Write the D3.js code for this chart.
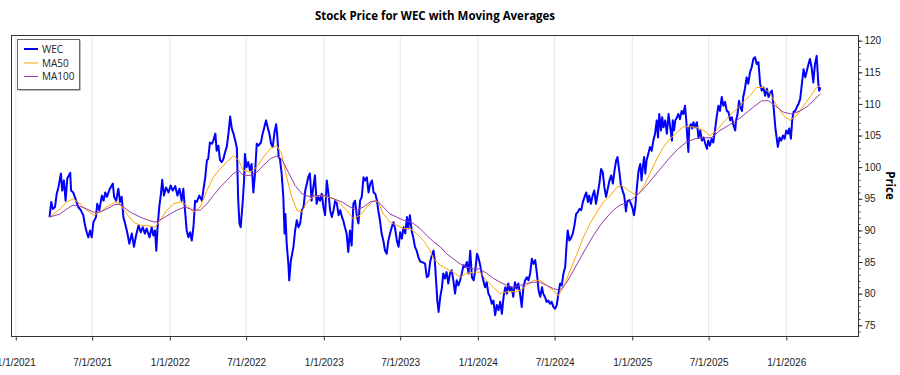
<!DOCTYPE html>
<html><head><meta charset="utf-8">
<script src="https://cdn.jsdelivr.net/npm/d3@7"></script>
<style>
body{margin:0;background:#fff;}
svg{display:block;font-family:"Segoe UI","Open Sans","Noto Sans",sans-serif;}
</style>
</head><body>
<svg id="chart" width="900" height="375"></svg>
<script>
// ---------------- DATA ----------------
const wecDates = [
"2021-03-22","2021-03-26","2021-03-30","2021-04-04","2021-04-08","2021-04-12","2021-04-18","2021-04-21","2021-04-25","2021-04-29",
"2021-05-03","2021-05-10","2021-05-12","2021-05-17","2021-05-24","2021-05-29","2021-06-04","2021-06-10","2021-06-14","2021-06-18",
"2021-06-22","2021-06-26","2021-06-30","2021-07-04","2021-07-10","2021-07-13","2021-07-18","2021-07-24","2021-07-28","2021-08-01",
"2021-08-05","2021-08-12","2021-08-19","2021-08-22","2021-08-27","2021-09-01","2021-09-05","2021-09-09","2021-09-13","2021-09-17",
"2021-09-22","2021-09-27","2021-10-03","2021-10-08","2021-10-13","2021-10-19","2021-10-24","2021-10-29","2021-11-03","2021-11-07",
"2021-11-14","2021-11-19","2021-11-23","2021-11-27","2021-11-30","2021-12-03","2021-12-07","2021-12-11","2021-12-14","2021-12-18",
"2021-12-23","2021-12-29","2022-01-03","2022-01-08","2022-01-14","2022-01-19","2022-01-24","2022-01-29","2022-02-02","2022-02-06",
"2022-02-10","2022-02-14","2022-02-18","2022-02-22","2022-02-26","2022-03-02","2022-03-06","2022-03-12","2022-03-18","2022-03-22",
"2022-03-26","2022-03-30","2022-04-02","2022-04-06","2022-04-11","2022-04-14","2022-04-19","2022-04-22","2022-04-26","2022-04-30",
"2022-05-04","2022-05-08","2022-05-12","2022-05-16","2022-05-20","2022-05-24","2022-05-28","2022-06-01","2022-06-05","2022-06-09",
"2022-06-12","2022-06-15","2022-06-18","2022-06-23","2022-06-26","2022-06-28","2022-07-02","2022-07-06","2022-07-10","2022-07-14",
"2022-07-18","2022-07-22","2022-07-26","2022-07-30","2022-08-05","2022-08-09","2022-08-13","2022-08-17","2022-08-21","2022-08-25",
"2022-08-29","2022-09-02","2022-09-06","2022-09-10","2022-09-13","2022-09-16","2022-09-19","2022-09-23","2022-09-27","2022-09-30",
"2022-10-02","2022-10-05","2022-10-09","2022-10-11","2022-10-15","2022-10-18","2022-10-21","2022-10-25","2022-10-29","2022-11-02",
"2022-11-06","2022-11-10","2022-11-14","2022-11-18","2022-11-22","2022-11-25","2022-11-29","2022-12-03","2022-12-07","2022-12-11",
"2022-12-15","2022-12-19","2022-12-23","2022-12-27","2022-12-31","2023-01-04","2023-01-08","2023-01-12","2023-01-16","2023-01-20",
"2023-01-24","2023-01-28","2023-02-01","2023-02-05","2023-02-09","2023-02-13","2023-02-16","2023-02-20","2023-02-24","2023-02-28",
"2023-03-04","2023-03-08","2023-03-12","2023-03-16","2023-03-20","2023-03-24","2023-03-28","2023-04-01","2023-04-05","2023-04-09",
"2023-04-13","2023-04-17","2023-04-21","2023-04-25","2023-04-29","2023-05-03","2023-05-07","2023-05-10","2023-05-14","2023-05-18",
"2023-05-22","2023-05-26","2023-05-30","2023-06-03","2023-06-07","2023-06-11","2023-06-15","2023-06-19","2023-06-23","2023-06-27",
"2023-07-01","2023-07-05","2023-07-09","2023-07-13","2023-07-17","2023-07-20","2023-07-24","2023-07-28","2023-08-01","2023-08-05",
"2023-08-09","2023-08-13","2023-08-17","2023-08-21","2023-08-25","2023-08-29","2023-09-02","2023-09-06","2023-09-10","2023-09-14",
"2023-09-18","2023-09-21","2023-09-24","2023-09-27","2023-09-30","2023-10-04","2023-10-08","2023-10-11","2023-10-15","2023-10-19",
"2023-10-23","2023-10-27","2023-10-31","2023-11-04","2023-11-08","2023-11-12","2023-11-16","2023-11-20","2023-11-24","2023-11-28",
"2023-12-02","2023-12-06","2023-12-10","2023-12-14","2023-12-18","2023-12-22","2023-12-26","2023-12-30","2024-01-02","2024-01-06",
"2024-01-10","2024-01-14","2024-01-18","2024-01-22","2024-01-26","2024-01-30","2024-02-03","2024-02-07","2024-02-11","2024-02-15",
"2024-02-19","2024-02-23","2024-02-27","2024-03-02","2024-03-06","2024-03-10","2024-03-13","2024-03-17","2024-03-21","2024-03-25",
"2024-03-29","2024-04-02","2024-04-06","2024-04-10","2024-04-14","2024-04-18","2024-04-22","2024-04-26","2024-04-30","2024-05-04",
"2024-05-08","2024-05-12","2024-05-16","2024-05-20","2024-05-24","2024-05-28","2024-06-01","2024-06-04","2024-06-08","2024-06-12",
"2024-06-16","2024-06-20","2024-06-24","2024-06-28","2024-07-02","2024-07-06","2024-07-10","2024-07-14","2024-07-18","2024-07-22",
"2024-07-26","2024-07-30","2024-08-01","2024-08-05","2024-08-08","2024-08-13","2024-08-17","2024-08-21","2024-08-25","2024-08-29",
"2024-09-02","2024-09-06","2024-09-10","2024-09-14","2024-09-18","2024-09-21","2024-09-25","2024-09-29","2024-10-03","2024-10-07",
"2024-10-11","2024-10-15","2024-10-19","2024-10-23","2024-10-27","2024-10-31","2024-11-04","2024-11-08","2024-11-12","2024-11-16",
"2024-11-20","2024-11-24","2024-11-27","2024-12-01","2024-12-05","2024-12-09","2024-12-13","2024-12-17","2024-12-20","2024-12-25",
"2024-12-29","2025-01-02","2025-01-05","2025-01-08","2025-01-12","2025-01-16","2025-01-20","2025-01-23","2025-01-26","2025-01-29",
"2025-02-01","2025-02-04","2025-02-08","2025-02-12","2025-02-16","2025-02-20","2025-02-24","2025-02-28","2025-03-03","2025-03-06",
"2025-03-10","2025-03-13","2025-03-16","2025-03-20","2025-03-24","2025-03-28","2025-04-01","2025-04-05","2025-04-07","2025-04-10",
"2025-04-13","2025-04-17","2025-04-20","2025-04-24","2025-04-28","2025-05-02","2025-05-06","2025-05-09","2025-05-12","2025-05-14",
"2025-05-16","2025-05-20","2025-05-23","2025-05-26","2025-05-30","2025-06-03","2025-06-07","2025-06-11","2025-06-15","2025-06-19",
"2025-06-23","2025-06-27","2025-06-30","2025-07-04","2025-07-08","2025-07-12","2025-07-16","2025-07-20","2025-07-24","2025-07-28",
"2025-08-01","2025-08-05","2025-08-09","2025-08-13","2025-08-17","2025-08-21","2025-08-25","2025-08-29","2025-09-02","2025-09-04",
"2025-09-07","2025-09-11","2025-09-14","2025-09-18","2025-09-21","2025-09-25","2025-09-29","2025-10-03","2025-10-07","2025-10-11",
"2025-10-15","2025-10-19","2025-10-23","2025-10-27","2025-10-31","2025-11-04","2025-11-08","2025-11-12","2025-11-16","2025-11-20",
"2025-11-24","2025-11-28","2025-12-02","2025-12-06","2025-12-10","2025-12-12","2025-12-16","2025-12-20","2025-12-24","2025-12-28",
"2026-01-01","2026-01-05","2026-01-08","2026-01-12","2026-01-15","2026-01-18","2026-01-22","2026-01-26","2026-01-30","2026-02-03",
"2026-02-07","2026-02-11","2026-02-15","2026-02-19","2026-02-22","2026-02-26","2026-03-02","2026-03-06","2026-03-10","2026-03-14",
"2026-03-18","2026-03-20","2026-03-23"
];
const wecValues = [
92.1,94.5,93.4,93.7,95.8,96.8,99.0,96.3,97.9,94.7,
98.2,99.1,96.3,96.0,94.7,93.7,93.2,92.4,90.8,89.7,
88.9,90.0,88.9,91.3,92.1,94.2,93.2,95.5,94.7,96.0,
95.3,96.6,97.4,95.3,94.7,96.6,94.5,95.3,92.1,91.1,
89.7,87.9,89.5,87.4,89.2,90.8,89.7,90.5,89.5,90.3,
88.9,90.5,89.2,90.0,86.8,90.5,93.7,95.8,98.0,95.5,
96.8,96.0,97.1,96.3,97.0,95.5,96.6,94.7,96.6,93.2,
90.0,88.9,89.7,88.4,90.5,94.7,94.5,95.5,94.7,96.6,
98.4,101.1,101.3,103.9,103.7,104.2,105.3,102.6,103.4,101.1,
100.8,101.3,102.4,103.2,105.3,108.0,106.1,105.3,104.2,103.0,
95.0,91.1,90.5,94.7,97.9,102.1,100.0,100.8,99.5,100.5,
96.0,99.0,103.7,103.4,103.9,105.3,106.3,107.4,106.3,105.3,
103.7,103.2,105.5,106.8,104.7,101.6,101.3,99.0,95.3,89.5,
92.6,87.9,84.7,82.1,85.3,86.3,87.4,90.0,91.6,90.5,
91.1,93.2,93.7,96.3,97.4,98.4,99.0,94.7,96.8,98.7,
94.2,95.3,94.7,95.8,93.7,92.4,97.9,95.8,93.2,92.1,
93.2,94.7,94.2,92.4,93.2,92.1,91.6,90.5,89.5,86.6,
90.0,87.6,94.2,94.7,92.4,91.1,94.7,95.3,98.4,97.9,
98.4,96.0,97.4,97.9,96.0,95.8,94.7,93.2,91.6,89.5,
88.4,86.8,86.3,88.4,89.5,90.5,91.3,90.3,88.4,87.4,
89.7,88.7,90.5,89.5,92.1,90.3,92.4,90.0,88.9,87.4,
86.8,85.8,85.1,85.0,84.9,84.7,82.6,82.8,85.0,86.1,
86.8,85.3,82.1,78.9,77.1,79.5,81.0,83.2,82.4,83.4,
81.6,83.2,83.7,82.1,80.0,82.1,81.3,82.1,83.2,84.5,
84.2,85.0,83.2,86.8,82.6,82.1,83.7,86.3,85.8,84.7,
83.2,82.1,81.0,81.8,80.0,79.5,78.4,78.9,76.6,78.2,
77.4,78.7,76.8,79.5,81.0,80.0,81.6,80.5,81.0,79.5,
81.8,80.8,81.6,80.0,77.9,81.0,82.1,82.6,82.1,83.2,
85.5,84.7,85.3,83.2,80.5,79.5,81.0,80.0,79.5,78.7,
78.9,78.4,78.7,77.9,77.6,78.2,80.0,81.6,81.3,83.2,
84.2,88.4,90.0,88.4,88.7,89.5,90.8,92.6,92.9,93.4,
93.2,94.5,95.3,96.0,94.5,95.5,94.2,95.5,96.3,94.2,
95.8,97.4,99.7,99.2,96.8,95.3,96.6,97.9,98.7,97.4,
99.5,101.1,101.6,99.5,97.2,96.3,95.5,93.0,94.6,94.8,
94.2,93.4,92.4,93.7,96.8,99.5,100.5,97.9,100.0,101.6,
99.0,101.1,102.1,103.2,102.6,104.2,105.3,107.4,104.7,108.4,
105.8,107.9,106.3,107.4,105.3,108.4,106.3,104.2,107.4,105.8,
107.4,107.9,108.4,107.6,108.9,108.4,109.7,107.4,104.2,102.4,
106.3,106.8,106.1,107.1,106.3,107.1,104.7,105.8,104.2,104.7,
103.7,102.9,104.2,103.4,104.5,103.9,105.8,107.9,109.7,108.9,
111.1,109.7,110.3,108.9,108.7,107.4,107.9,106.6,105.8,107.4,
108.2,110.5,109.5,108.9,111.1,112.4,114.2,113.2,115.0,115.8,
117.1,117.4,116.3,116.6,113.2,112.1,112.6,111.3,112.4,111.1,
111.8,112.1,109.5,106.3,104.2,103.2,104.7,104.2,105.0,104.5,
105.8,105.3,106.1,104.5,107.4,108.7,108.9,109.5,110.0,110.8,
113.2,115.5,114.2,115.3,116.1,117.1,115.8,113.4,116.3,117.6,
113.2,112.1,112.6
];

const ma50Dates = [
"2021-03-22","2021-04-16","2021-05-02","2021-05-17","2021-06-02","2021-06-18","2021-07-04","2021-07-20","2021-08-05","2021-08-24",
"2021-09-05","2021-09-21","2021-10-07","2021-10-23","2021-11-07","2021-11-27","2021-12-09","2021-12-25","2022-01-10","2022-01-25",
"2022-02-10","2022-02-26","2022-03-14","2022-03-30","2022-04-14","2022-04-30","2022-05-16","2022-06-01","2022-06-13","2022-06-24",
"2022-07-10","2022-07-26","2022-08-11","2022-08-27","2022-09-12","2022-09-23","2022-10-05","2022-10-17","2022-10-29","2022-11-10",
"2022-11-22","2022-12-07","2022-12-23","2023-01-08","2023-01-24","2023-02-09","2023-02-24","2023-03-12","2023-03-28","2023-04-13",
"2023-04-29","2023-05-10","2023-05-22","2023-06-07","2023-06-23","2023-07-09","2023-07-24","2023-08-09","2023-08-25","2023-09-10",
"2023-09-18","2023-10-04","2023-10-19","2023-11-04","2023-11-20","2023-12-06","2023-12-22","2024-01-06","2024-01-22","2024-02-07",
"2024-02-23","2024-03-10","2024-03-25","2024-04-10","2024-04-26","2024-05-12","2024-05-28","2024-06-12","2024-06-28","2024-07-10",
"2024-07-22","2024-08-07","2024-08-23","2024-09-07","2024-09-23","2024-10-09","2024-10-25","2024-11-10","2024-11-25","2024-12-07",
"2024-12-23","2025-01-12","2025-01-27","2025-02-12","2025-02-28","2025-03-16","2025-04-01","2025-04-17","2025-05-02","2025-05-18",
"2025-06-03","2025-06-19","2025-07-04","2025-07-20","2025-08-05","2025-08-21","2025-09-06","2025-09-21","2025-10-07","2025-10-23",
"2025-11-08","2025-11-24","2025-12-10","2025-12-25","2026-01-10","2026-01-26","2026-02-11","2026-02-26","2026-03-14","2026-03-23"
];
const ma50Values = [
92.1,93.4,94.5,95.0,94.2,93.2,92.4,92.9,93.7,94.5,
94.2,92.6,91.3,90.8,90.8,90.5,91.6,93.2,94.2,94.5,
94.0,92.9,93.7,96.3,98.4,99.7,100.8,101.8,101.1,99.5,
99.2,100.0,101.6,102.9,103.4,102.1,98.4,95.3,93.2,92.9,
94.5,95.3,95.5,95.3,95.0,94.2,93.2,91.8,92.4,93.7,
94.7,94.5,92.6,91.3,90.8,90.3,90.3,89.5,88.4,86.8,
85.5,84.5,83.9,83.4,82.6,83.2,83.4,83.4,82.1,81.0,
80.0,80.3,80.3,80.5,81.3,82.1,82.1,81.3,80.5,79.7,
81.0,83.7,86.3,88.9,91.1,92.9,94.5,95.5,96.8,97.1,
96.3,95.5,96.8,99.0,101.3,103.2,104.5,105.5,106.4,106.4,
106.3,105.8,105.0,105.8,107.1,108.2,109.2,110.3,111.3,112.6,
112.6,111.6,109.7,108.2,107.4,108.2,109.7,111.1,112.6,112.9
];

const ma100Dates = [
"2021-03-22","2021-04-16","2021-05-02","2021-05-17","2021-06-02","2021-06-18","2021-07-04","2021-07-20","2021-08-05","2021-08-24",
"2021-09-05","2021-09-29","2021-10-23","2021-11-11","2021-11-27","2021-12-13","2022-01-02","2022-01-18","2022-02-06","2022-02-26",
"2022-03-14","2022-03-30","2022-04-14","2022-04-30","2022-05-16","2022-06-01","2022-06-13","2022-06-24","2022-07-10","2022-07-26",
"2022-08-11","2022-08-27","2022-09-12","2022-09-23","2022-10-09","2022-10-25","2022-11-10","2022-11-25","2022-12-15","2023-01-04",
"2023-01-24","2023-02-13","2023-03-04","2023-03-20","2023-04-05","2023-04-21","2023-05-07","2023-05-22","2023-06-07","2023-06-23",
"2023-07-09","2023-07-28","2023-08-17","2023-09-02","2023-09-18","2023-10-04","2023-10-19","2023-11-04","2023-11-20","2023-12-06",
"2023-12-22","2024-01-06","2024-01-22","2024-02-07","2024-02-23","2024-03-10","2024-03-25","2024-04-10","2024-04-26","2024-05-12",
"2024-05-28","2024-06-12","2024-06-28","2024-07-14","2024-07-30","2024-08-15","2024-08-30","2024-09-15","2024-10-01","2024-10-17",
"2024-11-02","2024-11-17","2024-12-03","2024-12-23","2025-01-12","2025-01-31","2025-02-20","2025-03-12","2025-04-01","2025-04-20",
"2025-05-10","2025-05-30","2025-06-19","2025-07-08","2025-07-28","2025-08-17","2025-09-06","2025-09-25","2025-10-15","2025-11-04",
"2025-11-20","2025-12-06","2025-12-25","2026-01-14","2026-02-03","2026-02-22","2026-03-10","2026-03-23"
];
const ma100Values = [
92.1,92.6,93.4,94.0,93.8,93.4,92.9,92.9,93.4,94.1,
94.1,92.9,92.1,91.6,91.3,91.8,92.6,93.2,93.7,93.2,
93.2,94.2,95.5,96.8,97.9,99.0,99.5,98.7,98.7,99.2,
100.3,101.3,101.8,101.3,99.2,97.1,95.8,95.4,95.5,95.5,
95.0,94.5,93.7,93.2,93.7,94.5,94.7,93.7,92.6,92.1,
91.6,91.3,90.3,89.2,88.2,87.4,86.3,85.5,84.7,84.2,
83.9,83.9,83.2,82.4,81.8,81.3,81.0,81.3,81.6,81.8,
81.8,81.3,80.8,80.5,81.8,83.7,85.5,87.4,89.2,90.8,
92.1,93.2,94.0,94.5,95.5,96.8,98.4,100.0,101.6,102.9,
104.0,104.5,104.6,104.7,105.8,106.6,107.4,108.4,109.5,110.5,
110.5,109.7,108.7,108.4,108.9,109.7,110.8,111.6
];

const xTickDates  = ["2021-01-01","2021-07-01","2022-01-01","2022-07-01","2023-01-01","2023-07-01","2024-01-01","2024-07-01","2025-01-01","2025-07-01","2026-01-01"];
const xTickLabels = ["1/1/2021","7/1/2021","1/1/2022","7/1/2022","1/1/2023","7/1/2023","1/1/2024","7/1/2024","1/1/2025","7/1/2025","1/1/2026"];
const yTickValues = [75,80,85,90,95,100,105,110,115,120];
const yMinorTicks = d3.range(74, 121, 1);
const seriesNames  = ["WEC","MA50","MA100"];
const seriesColors = ["#0000FF","#FFA500","#953CA5"];
const seriesWidths = [2,1,1];
const titleText = "Stock Price for WEC with Moving Averages";
const yAxisTitle = "Price";

// ---------------- CHART ----------------
const parse = d3.timeParse("%Y-%m-%d");
const svg = d3.select("#chart");
const P = {left: 11, right: 859, top: 35, bottom: 336};

const wec = wecDates.map((d,i)=>({date: parse(d), value: wecValues[i]}));
const ma50 = ma50Dates.map((d,i)=>({date: parse(d), value: ma50Values[i]}));
const ma100 = ma100Dates.map((d,i)=>({date: parse(d), value: ma100Values[i]}));

const ext = d3.extent(wec, d=>d.date);
const span = ext[1] - ext[0];
const x = d3.scaleTime()
  .domain([new Date(+ext[0] - span*0.05), new Date(+ext[1] + span*0.05)])
  .range([P.left, P.right]);
const y = d3.scaleLinear().domain([73.3, 120.9]).range([P.bottom, P.top]);

// title
svg.append("text")
  .attr("x", (P.left+P.right)/2).attr("y", 19.5)
  .attr("text-anchor","middle")
  .attr("font-weight","bold").attr("font-size", 11.5)
  .attr("fill","#000")
  .text(titleText);

// vertical gridlines
const xt = xTickDates.map(parse);
svg.append("g").selectAll("line").data(xt).join("line")
  .attr("x1", d=>x(d)).attr("x2", d=>x(d))
  .attr("y1", P.top).attr("y2", P.bottom)
  .attr("stroke", "#e8e8e8").attr("stroke-width", 1);

// clip
svg.append("clipPath").attr("id","clip").append("rect")
  .attr("x",P.left).attr("y",P.top).attr("width",P.right-P.left).attr("height",P.bottom-P.top);

const line = d3.line().x(d=>x(d.date)).y(d=>y(d.value));
const gL = svg.append("g").attr("clip-path","url(#clip)");
[wec, ma50, ma100].forEach((s,i)=>{
  gL.append("path").datum(s)
    .attr("fill","none")
    .attr("stroke", seriesColors[i])
    .attr("stroke-width", seriesWidths[i])
    .attr("stroke-linejoin","round")
    .attr("d", line);
});

// plot border
svg.append("rect")
  .attr("x", P.left+0.5).attr("y", P.top+0.5)
  .attr("width", P.right-P.left-1).attr("height", P.bottom-P.top)
  .attr("fill","none").attr("stroke","#333").attr("stroke-width",1);

// x axis
const xAxis = d3.axisBottom(x).tickValues(xt)
  .tickFormat((d,i)=>xTickLabels[i]).tickSizeInner(4).tickSizeOuter(0).tickPadding(18);
const gx = svg.append("g").attr("transform",`translate(0,${P.bottom+0.5})`).call(xAxis);
gx.select(".domain").remove();
gx.selectAll("line").attr("stroke","#333");
gx.selectAll("text").attr("font-size",10).attr("fill","#222").attr("font-family",null);

// y axis (right) minor
const gyMinor = svg.append("g").attr("transform",`translate(${P.right-0.5},0)`)
  .call(d3.axisRight(y).tickValues(yMinorTicks).tickSize(2).tickFormat(""));
gyMinor.select(".domain").remove();
gyMinor.selectAll("line").attr("stroke","#333");
// y axis major
const gy = svg.append("g").attr("transform",`translate(${P.right-0.5},0)`)
  .call(d3.axisRight(y).tickValues(yTickValues).tickSize(4).tickPadding(2));
gy.select(".domain").remove();
gy.selectAll("line").attr("stroke","#333");
gy.selectAll("text").attr("font-size",10).attr("fill","#222").attr("font-family",null);

// y axis title
svg.append("text")
  .attr("transform",`translate(886,${(P.top+P.bottom)/2}) rotate(90)`)
  .attr("text-anchor","middle")
  .attr("font-weight","bold").attr("font-size",11.5)
  .attr("fill","#000")
  .text(yAxisTitle);

// legend
const L = {x: 17, y: 39, w: 62, h: 50};
svg.append("rect").attr("x",L.x+1.5).attr("y",L.y+1.5).attr("width",L.w).attr("height",L.h)
  .attr("fill","#777");
svg.append("rect").attr("x",L.x+0.5).attr("y",L.y+0.5).attr("width",L.w).attr("height",L.h)
  .attr("fill","#fff").attr("stroke","#666").attr("stroke-width",1);
const rowY = [49, 63, 76.5];
seriesNames.forEach((n,i)=>{
  svg.append("line").attr("x1",24).attr("x2",38).attr("y1",rowY[i]).attr("y2",rowY[i])
    .attr("stroke",seriesColors[i]).attr("stroke-width",seriesWidths[i]);
  svg.append("text").attr("x",42).attr("y",rowY[i]).attr("dy","0.35em")
    .attr("font-size",10).attr("fill","#222").text(n);
});
</script>
</body></html>
